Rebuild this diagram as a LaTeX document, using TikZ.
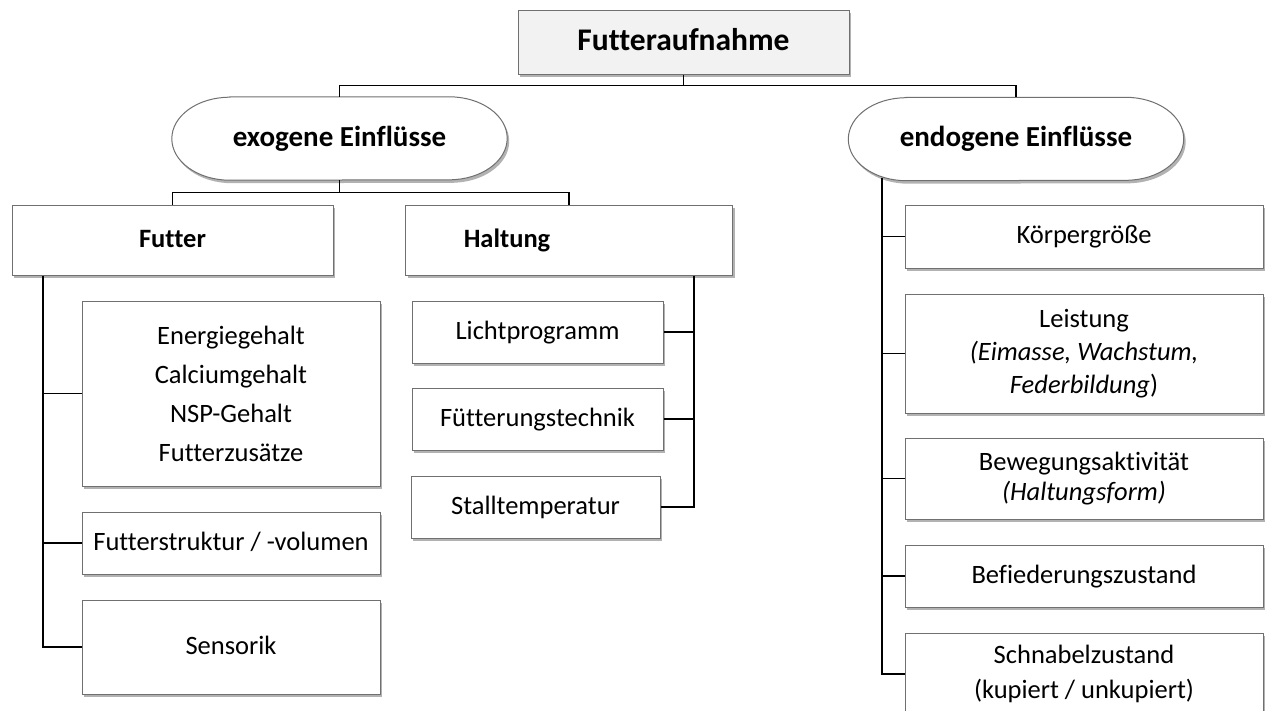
\documentclass[tikz,border=0pt]{standalone}
\usepackage{fontspec}
\setmainfont[Ligatures=CommonOff]{Carlito}
\usetikzlibrary{shadows,calc}
\pgfdeclarelayer{background}
\pgfsetlayers{background,main}
\definecolor{bordergray}{HTML}{707070}
\definecolor{topfill}{HTML}{F2F2F2}
\begin{document}
\begin{tikzpicture}[x=1pt,y=-1pt,
  shadowed/.style={drop shadow={shadow xshift=2pt,shadow yshift=-3pt,opacity=0.3,fill=black}},
  box/.style={draw=bordergray,line width=1pt,fill=white,shadowed,inner sep=0pt,align=center,font=\fontsize{26.5}{39}\selectfont},
  onebox/.style={box,text height=20.5pt,text depth=6pt},
  headbox/.style={onebox,font=\bfseries\fontsize{26.5}{31}\selectfont},
  oval/.style={inner sep=0pt,minimum width=335pt,minimum height=83pt,text height=22pt,text depth=6.5pt,font=\bfseries\fontsize{29}{35}\selectfont},
  ovalline/.style={draw=bordergray,line width=1pt,fill=white,shadowed},
  conn/.style={draw=black,line width=1.1pt}]
\useasboundingbox (0,0) rectangle (1267,710);
\clip (0,0) rectangle (1267,710);

% nodes
\node[onebox,fill=topfill,minimum width=331pt,minimum height=64pt,text height=24pt,text depth=7pt,font=\bfseries\fontsize{31.5}{37}\selectfont] (top) at (683.5,42) {Futteraufnahme};
\node[oval] (exo) at (339.5,138.5) {exogene Einflüsse};
\node[oval] (endo) at (1016,139) {endogene Einflüsse};

\node[headbox,minimum width=321pt,minimum height=70pt] (fut) at (172.5,240) {Futter};
\node[headbox,minimum width=327pt,minimum height=70pt] (halt) at (569,240) {Haltung\hspace*{124pt}};

\node[box,minimum width=298pt,minimum height=185pt] (energie) at (231,393.5) {Energiegehalt\\Calciumgehalt\\NSP-Gehalt\\Futterzusätze};
\node[onebox,minimum width=298pt,minimum height=62pt] (struktur) at (231,543) {Futterstruktur / -volumen};
\node[onebox,minimum width=298pt,minimum height=94pt] (sensorik) at (231,647) {Sensorik};

\node[onebox,minimum width=251pt,minimum height=62pt] (licht) at (537.5,332) {Lichtprogramm};
\node[onebox,minimum width=251pt,minimum height=62pt] (fuetterung) at (537.5,419) {Fütterungstechnik};
\node[onebox,minimum width=249pt,minimum height=62pt] (stall) at (535.5,507) {Stalltemperatur};

\node[onebox,minimum width=358pt,minimum height=63pt] (koerper) at (1084,236.5) {Körpergröße};
\node[box,minimum width=358pt,minimum height=119pt,font=\fontsize{26.5}{33}\selectfont] (leistung) at (1084,353.5) {Leistung\\\textit{(Eimasse, Wachstum,}\\\textit{Federbildung})};
\node[box,minimum width=358pt,minimum height=81pt,font=\fontsize{26.5}{30}\selectfont] (bewegung) at (1084,478.5) {Bewegungsaktivität\\\textit{(Haltungsform)}};
\node[onebox,minimum width=358pt,minimum height=62pt] (befieder) at (1084,576) {Befiederungszustand};
\node[box,minimum width=358pt,minimum height=82pt,font=\fontsize{26.5}{35}\selectfont] (schnabel) at (1084,674) {Schnabelzustand\\(kupiert / unkupiert)};

% oval outlines
\begin{pgfonlayer}{background}
\foreach \n in {exo,endo} {
  \draw[ovalline] ([xshift=58pt]\n.north west) -- ([xshift=-58pt]\n.north east)
    arc[start angle=90,end angle=-90,x radius=58pt,y radius=41.5pt]
    -- ([xshift=58pt]\n.south west)
    arc[start angle=270,end angle=90,x radius=58pt,y radius=41.5pt] -- cycle;
}
\end{pgfonlayer}

% connectors
\draw[conn] (top.south) -- ++(0,11) coordinate (topbus);
\draw[conn] (exo.north) |- (topbus) -| (endo.north);

\draw[conn] (exo.south) -- ++(0,12) coordinate (exobus);
\draw[conn] (fut.north) |- (exobus) -| (halt.north);

\coordinate (futrail) at (43,0);
\draw[conn] (fut.south -| futrail) |- (sensorik.west);
\draw[conn] (energie.west) -- (energie.west -| futrail);
\draw[conn] (struktur.west) -- (struktur.west -| futrail);

\coordinate (haltrail) at (694,0);
\draw[conn] (halt.south -| haltrail) |- (stall.east);
\draw[conn] (licht.east) -- (licht.east -| haltrail);
\draw[conn] (fuetterung.east) -- (fuetterung.east -| haltrail);

\coordinate (endorail) at (882,0);
\draw[conn] ($(endo.south -| endorail)+(0,-3)$) |- (schnabel.west);
\draw[conn] (koerper.west) -- (koerper.west -| endorail);
\draw[conn] (leistung.west) -- (leistung.west -| endorail);
\draw[conn] (bewegung.west) -- (bewegung.west -| endorail);
\draw[conn] (befieder.west) -- (befieder.west -| endorail);
\end{tikzpicture}
\end{document}
